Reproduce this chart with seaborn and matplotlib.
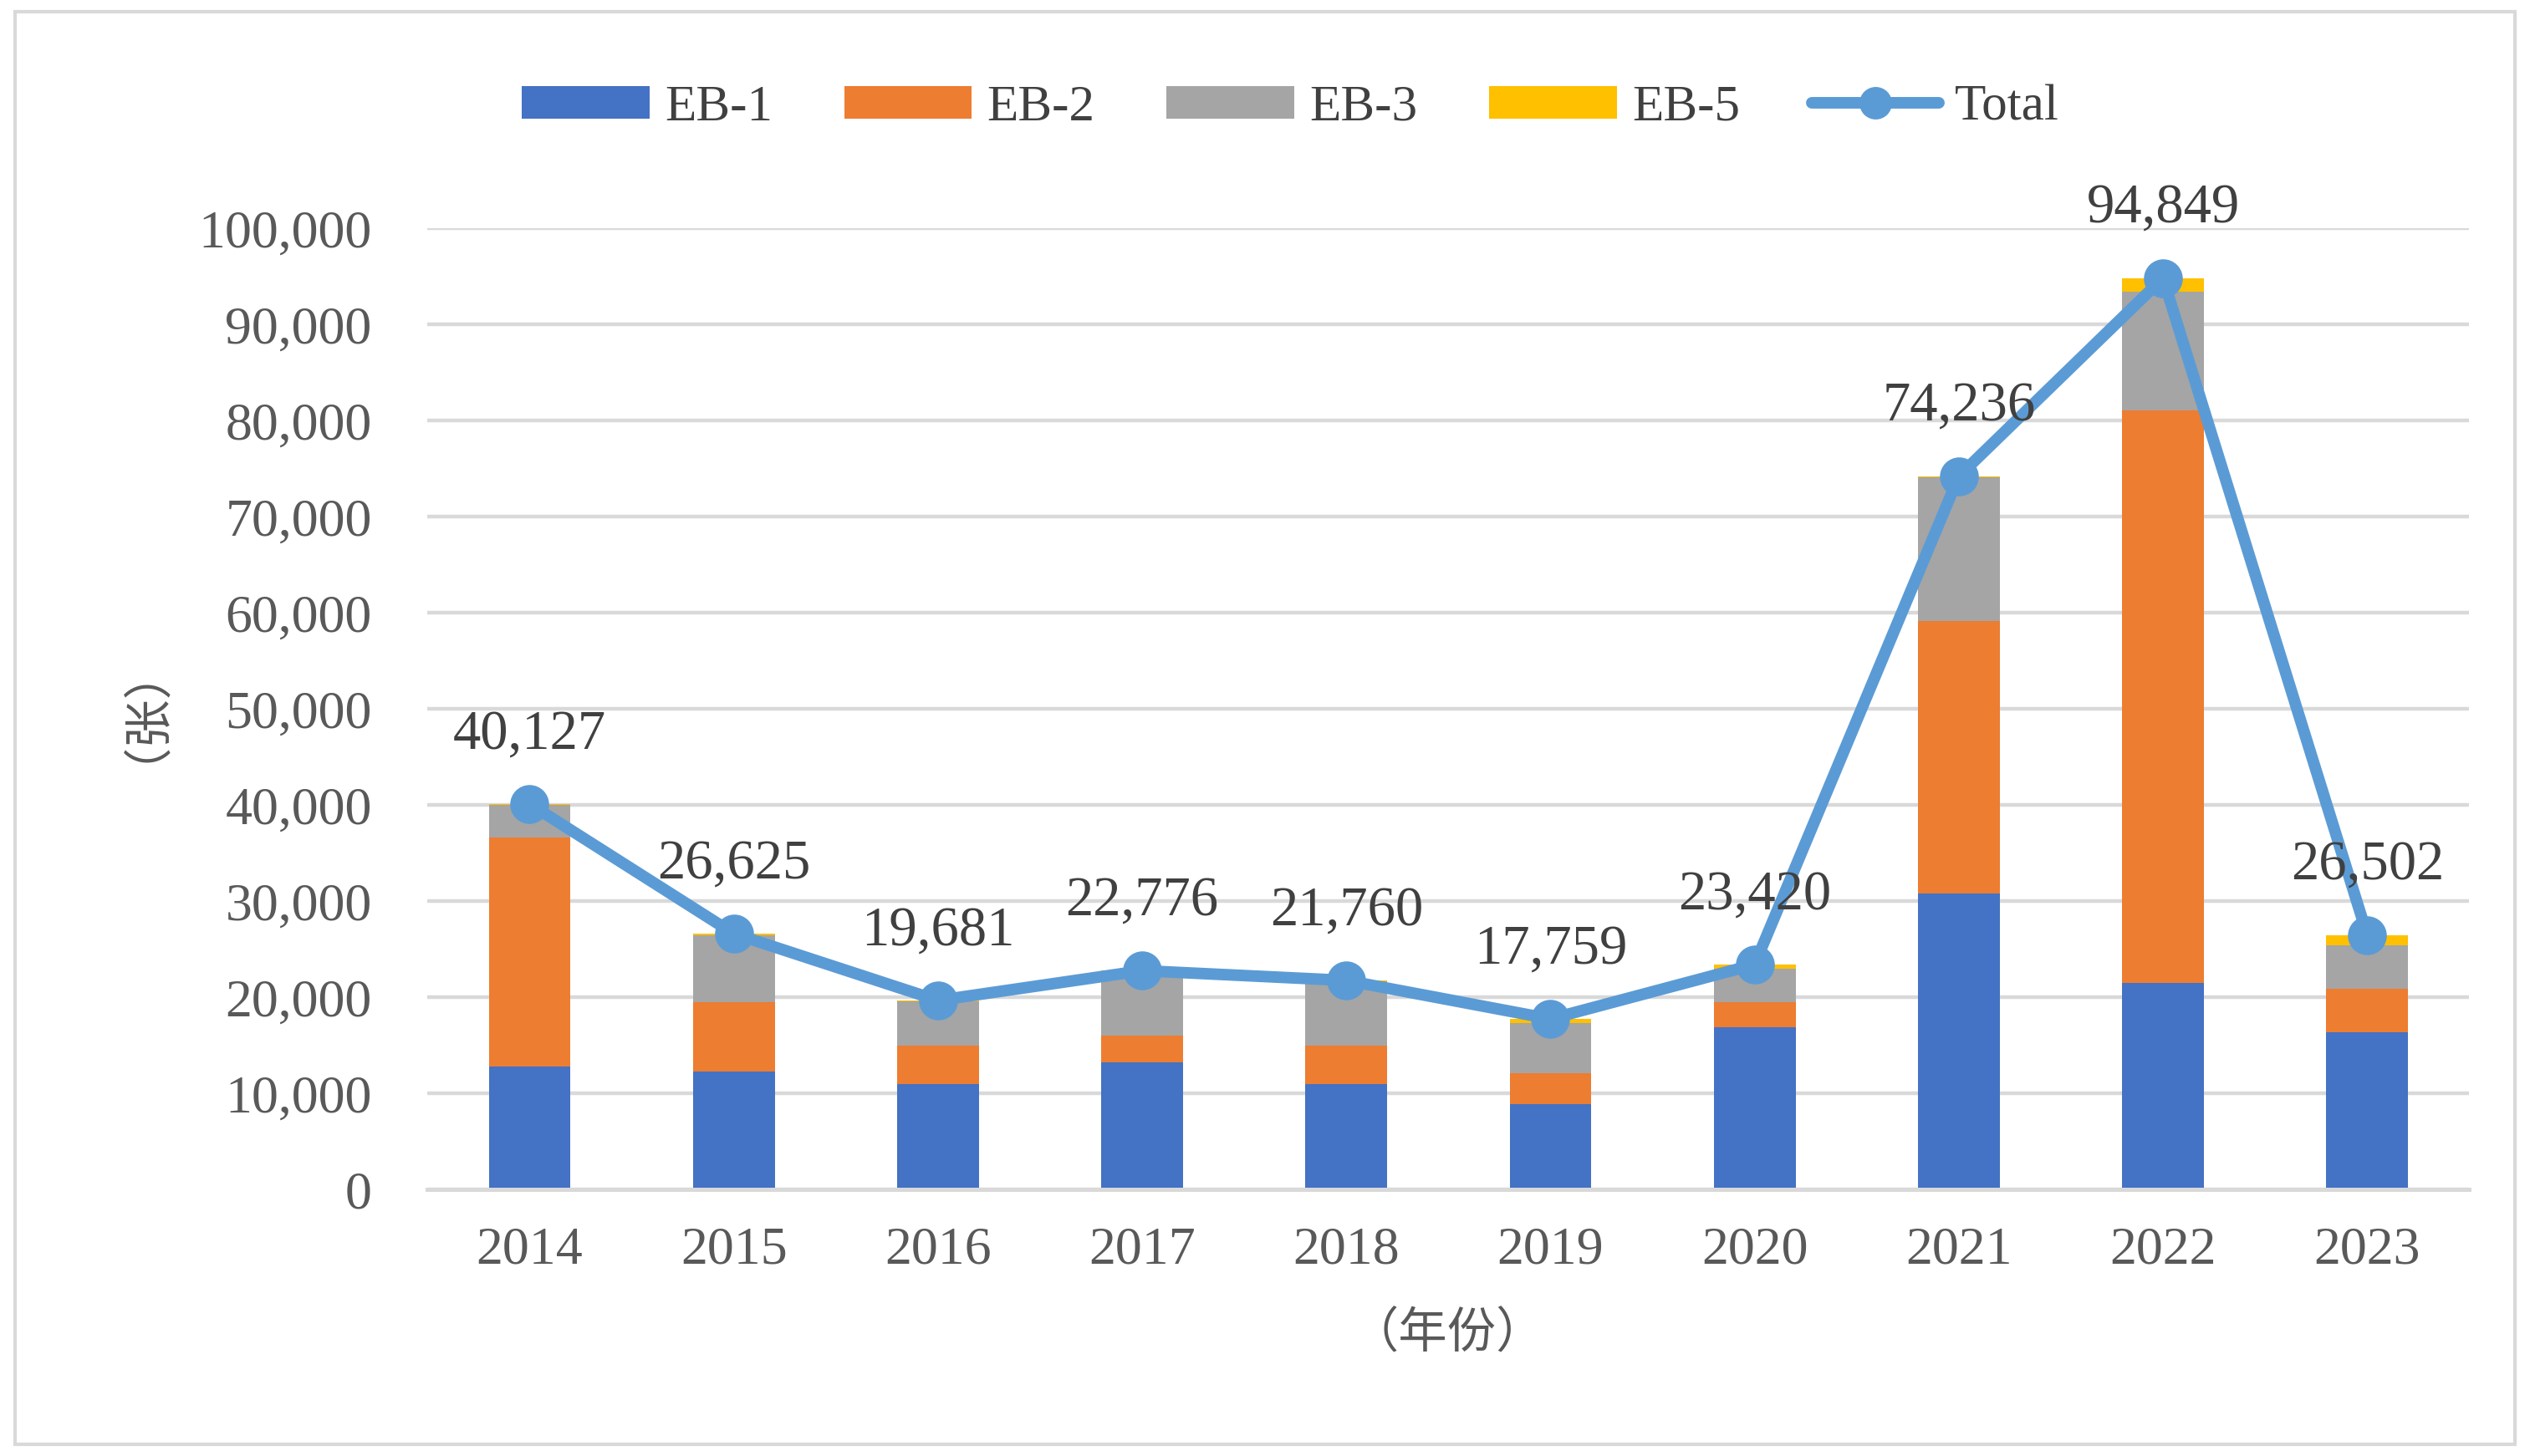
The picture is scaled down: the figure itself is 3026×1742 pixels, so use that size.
import matplotlib
matplotlib.use("Agg")
import matplotlib.pyplot as plt
import seaborn as sns
import numpy as np
import pandas as pd
from matplotlib.patches import Patch, Rectangle
from matplotlib.lines import Line2D

years = ["2014", "2015", "2016", "2017", "2018", "2019", "2020", "2021", "2022", "2023"]
eb1 = [12800, 12300, 11000, 13200, 11000, 8900, 16900, 30800, 21500, 16400]
eb2 = [23800, 7200, 4000, 2800, 4000, 3200, 2600, 28400, 59600, 4500]
eb3 = [3400, 7000, 4600, 6700, 6700, 5200, 3500, 14900, 12300, 4500]
eb5 = [127, 125, 81, 76, 60, 459, 420, 136, 1449, 1102]
total = [40127, 26625, 19681, 22776, 21760, 17759, 23420, 74236, 94849, 26502]
yticks = [0, 10000, 20000, 30000, 40000, 50000, 60000, 70000, 80000, 90000, 100000]

C1, C2, C3, C5, CL = "#4472C4", "#ED7D31", "#A5A5A5", "#FFC000", "#5B9BD5"

sns.set_theme(style="white")
plt.rcParams["font.family"] = ["Liberation Serif", "Noto Sans CJK SC", "DejaVu Sans"]

fig = plt.figure(figsize=(15.13, 8.71), dpi=200)
ax = fig.add_axes([0.169, 0.183, 0.807, 0.66])

df = pd.DataFrame({"year": years, "eb1": eb1, "eb2": eb2, "eb3": eb3, "eb5": eb5})
df["c2"] = df["eb1"] + df["eb2"]
df["c3"] = df["c2"] + df["eb3"]
df["c5"] = df["c3"] + df["eb5"]

for col, c in [("c5", C5), ("c3", C3), ("c2", C2), ("eb1", C1)]:
    sns.barplot(data=df, x="year", y=col, color=c, width=0.4, ax=ax,
                saturation=1, linewidth=0, zorder=2)

sns.pointplot(x=years, y=total, color=CL, markers="o", linestyles="-",
              errorbar=None, ax=ax, markersize=13, linewidth=5)
for coll in ax.collections:
    coll.set_zorder(4)
for ln in ax.lines:
    ln.set_zorder(4)

for i, t in enumerate(total):
    ax.annotate(f"{t:,}", xy=(i, t), xytext=(0, 19), textcoords="offset points",
                ha="center", va="bottom", fontsize=24, color="#404040",
                family="Liberation Serif", zorder=5)

ax.set_ylim(0, 100000)
ax.set_xlim(-0.5, 9.5)
ax.set_yticks(yticks)
ax.set_yticklabels([f"{v:,}" for v in yticks])
ax.yaxis.grid(True, color="#D9D9D9", linewidth=1.6, zorder=0)
ax.set_axisbelow(True)
for s in ["top", "right", "left"]:
    ax.spines[s].set_visible(False)
ax.spines["bottom"].set_color("#D9D9D9")
ax.spines["bottom"].set_linewidth(1.8)
ax.tick_params(axis="both", length=0, labelsize=23, labelcolor="#595959")
ax.tick_params(axis="y", pad=24)
ax.tick_params(axis="x", pad=16)
ax.set_xlabel("")
ax.set_ylabel("")

fig.text(0.047, 0.527, "（张）", rotation=90, ha="center", va="center",
         fontsize=21, color="#595959", family=["Noto Sans CJK SC", "DejaVu Sans"])
fig.text(0.572, 0.084, "（年份）", ha="center", va="center",
         fontsize=21, color="#595959", family=["Noto Sans CJK SC", "DejaVu Sans"])

handles = [Patch(facecolor=C1, edgecolor="none"), Patch(facecolor=C2, edgecolor="none"),
           Patch(facecolor=C3, edgecolor="none"), Patch(facecolor=C5, edgecolor="none"),
           Line2D([0], [0], color=CL, lw=5, marker="o", markersize=13)]
labels = ["EB-1", "EB-2", "EB-3", "EB-5", "Total"]
leg = fig.legend(handles, labels, loc="center", bbox_to_anchor=(0.51, 0.926), ncol=5,
                 frameon=False, fontsize=22, handlelength=2.5, handleheight=0.6,
                 columnspacing=1.4, handletextpad=0.3, labelcolor="#404040")

fig.patches.append(Rectangle((0.006, 0.008), 0.988, 0.984, transform=fig.transFigure,
                             fill=False, edgecolor="#D9D9D9", linewidth=1.5))

fig.savefig("out.png", dpi=200)
